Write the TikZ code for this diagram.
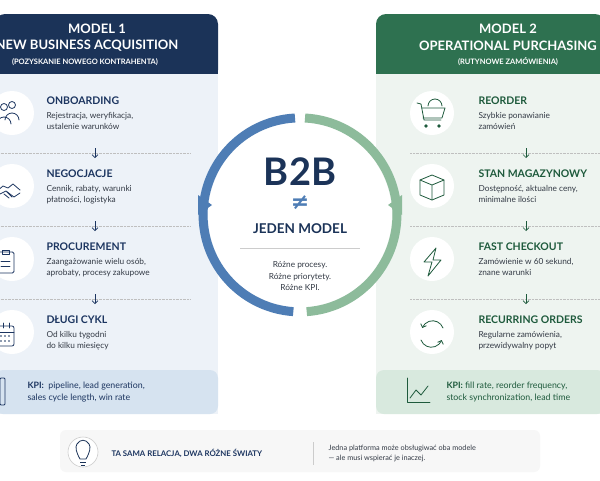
\documentclass[tikz,border=0pt]{standalone}
\usepackage{fontspec}
\setmainfont{Lato}
\newfontfamily\djv{DejaVu Sans}
\usetikzlibrary{arrows.meta}
\definecolor{navy}{HTML}{1B3358}
\definecolor{navytxt}{HTML}{1C3560}
\definecolor{gr}{HTML}{2E7150}
\definecolor{grtxt}{HTML}{1E5A3C}
\definecolor{lbl}{HTML}{EDF2F8}
\definecolor{lgr}{HTML}{EEF4F0}
\definecolor{kpib}{HTML}{D6E3F0}
\definecolor{kpig}{HTML}{D8E9DE}
\definecolor{arcb}{HTML}{4E7DB5}
\definecolor{arcg}{HTML}{8DBB9B}
\definecolor{txt}{HTML}{333A45}
\tikzset{
 ttl/.style={anchor=west,font=\bfseries\fontsize{10.5}{12}\selectfont},
 dsc/.style={anchor=north west,align=left,font=\fontsize{8.3}{11}\selectfont,text=txt},
 icon/.style={circle,fill=white,minimum size=44pt,inner sep=0},
 dn/.style={-{Straight Barb[length=3pt]},line width=0.7pt},
 sep/.style={densely dotted,gray!50,line width=0.4pt},
 hd/.style={white,font=\bfseries\fontsize{13}{14}\selectfont},
 hs/.style={white,font=\bfseries\fontsize{7.5}{9}\selectfont}
}
\begin{document}
\begin{tikzpicture}[x=1pt,y=-1pt]
\useasboundingbox (0,0) rectangle (600,480);
\fill[white] (0,0) rectangle (600,480);
% left panel
\fill[lbl] (-5,74) rectangle (218,414);
\fill[navy,rounded corners=10pt] (-5,14) rectangle (218,80);
\fill[navy] (-5,60) rectangle (218,74);
\fill[lbl] (-5,74) rectangle (218,90);
\fill[kpib,rounded corners=8pt] (-5,370) rectangle (218,414);
\node[hd] (m1) at (97,29) {MODEL 1};
\node[hd] (m1b) at (87,46) {NEW BUSINESS ACQUISITION};
\node[hs] (m1c) at (85,62) {(POZYSKANIE NOWEGO KONTRAHENTA)};
% right panel
\fill[lgr] (376,74) rectangle (605,414);
\fill[gr,rounded corners=10pt] (376,14) rectangle (605,80);
\fill[gr] (376,60) rectangle (605,74);
\fill[lgr] (376,74) rectangle (605,90);
\fill[kpig,rounded corners=8pt] (376,370) rectangle (605,414);
\node[hd] (m2) at (508,29) {MODEL 2};
\node[hd] (m2b) at (508,46) {OPERATIONAL PURCHASING};
\node[hs] (m2c) at (508,62) {(RUTYNOWE ZAMÓWIENIA)};
% left items
\foreach \y/\t/\d [count=\i] in {101/ONBOARDING/{Rejestracja, weryfikacja,\\ustalenie warunków},174/NEGOCJACJE/{Cennik, rabaty, warunki\\płatności, logistyka},247/PROCUREMENT/{Zaangażowanie wielu osób,\\aprobaty, procesy zakupowe},320/DŁUGI CYKL/{Od kilku tygodni\\do kilku miesięcy}}{
 \node[icon] (li\i) at (12,\y+12) {};
 \node[ttl,text=navytxt] (lt\i) at (43,\y) {\t};
 \node[dsc] (ld\i) at (43,\y+8) {\d};
}
\foreach \y in {153,226,299}{
 \draw[sep] (-5,\y) -- (190,\y);
 \draw[dn,navytxt] (95,\y-5) -- (95,\y+5);
}
% left icons
\begin{scope}[navytxt,line width=0.8pt,line join=round,line cap=round]
 \draw (4,107) circle (3.5); \draw (12,105) circle (3.5);
 \draw (-3,124) arc(180:360:7); \draw (5,120) arc(180:360:7);
 \draw (-4,192) -- (3,186) -- (8,188) -- (13,184) -- (20,190);
 \draw (-4,196) -- (6,191) -- (14,197) -- (20,193);
 \draw (4,194) -- (9,198) (7,192) -- (12,197);
 \draw[rounded corners=1.5pt] (-3,252) rectangle (14,273); \draw (2,250) rectangle (9,254);
 \draw (1,261) -- (10,261) (1,266) -- (10,266);
 \draw[rounded corners=2pt] (-3,326) rectangle (14,346); \draw (-3,332) -- (14,332);
 \draw (3,323) -- (3,328) (9,323) -- (9,328);
 \foreach \xx in {1,5,9} \foreach \yy in {336,341} \fill (\xx,\yy) circle (0.8);
 \draw[rounded corners=1pt] (0,378) rectangle (5,405);
\end{scope}
\node[anchor=west,align=left,font=\fontsize{8.8}{12}\selectfont,text=navytxt] (lk) at (24,392) {\textbf{KPI:}\ \ pipeline, lead generation,\\sales cycle length, win rate};
% right items
\foreach \y/\t/\d [count=\i] in {101/REORDER/{Szybkie ponawianie\\zamówień},174/STAN MAGAZYNOWY/{Dostępność, aktualne ceny,\\minimalne ilości},247/FAST CHECKOUT/{Zamówienie w 60 sekund,\\znane warunki},320/RECURRING ORDERS/{Regularne zamówienia,\\przewidywalny popyt}}{
 \node[icon] (ri\i) at (432,\y+12) {};
 \node[ttl,text=grtxt] (rt\i) at (475,\y) {\t};
 \node[dsc] (rd\i) at (475,\y+8) {\d};
}
\foreach \y in {153,226,299}{
 \draw[sep] (410,\y) -- (605,\y);
 \draw[dn,grtxt] (526,\y-5) -- (526,\y+5);
}
\begin{scope}[grtxt,line width=0.8pt,line join=round,line cap=round]
 \draw (417,103) -- (421,104) -- (424,120) -- (441,120);
 \draw (422,108) -- (445,108) -- (442,118) -- (423,118);
 \draw (428,106) arc(180:360:7);
 \fill (426,126) circle (1.8) (439,126) circle (1.8);
 \draw (420,180) -- (432,175) -- (444,180) -- (444,195) -- (432,200) -- (420,195) -- cycle;
 \draw (420,180) -- (432,185) -- (444,180) (432,185) -- (432,200);
 \draw (436,248) -- (424,262) -- (432,262) -- (428,276) -- (441,260) -- (433,260) -- cycle;
 \draw[-{Straight Barb[length=3pt]}] (443,328) arc(-20:-160:11);
 \draw[-{Straight Barb[length=3pt]}] (421,340) arc(160:20:11);
 \draw (407,378) -- (407,402) -- (430,402);
 \draw (410,398) -- (416,390) -- (421,395) -- (428,386);
\end{scope}
\node[anchor=west,align=left,font=\fontsize{8.8}{12}\selectfont,text=grtxt] (rk) at (443,392) {\textbf{KPI:} fill rate, reorder frequency,\\stock synchronization, lead time};
% centre
\fill[white] (300,215) circle (92);
\draw[arcb,line width=9pt] (295,118) arc(267:94:97);
\draw[arcg,line width=9pt] (305,118) arc(-87:86:97);
\fill[arcb] (198,195) -- (212,205) -- (198,215) -- cycle;
\fill[arcg] (402,195) -- (388,205) -- (402,215) -- cycle;
\node[font=\bfseries\fontsize{38}{40}\selectfont,text=navy] (b2b) at (300,172) {B2B};
\node[font=\djv\bfseries\fontsize{22}{22}\selectfont,text=arcb] (neq) at (300,203) {≠};
\node[font=\bfseries\fontsize{13.5}{15}\selectfont,text=navy] (jm) at (300,229) {JEDEN MODEL};
\draw[gray!40,line width=0.6pt] (240,248) -- (360,248);
\node[align=center,font=\fontsize{8.3}{11.5}\selectfont,text=txt] (rz) at (300,276) {Różne procesy.\\Różne priorytety.\\Różne KPI.};
% bottom
\fill[gray!6,rounded corners=6pt] (60,430) rectangle (540,472);
\node[circle,draw=gray!40,fill=white,minimum size=30pt,line width=0.6pt] (bulb) at (83,452) {};
\draw[navy,line width=0.8pt] (80,459) .. controls (76,452) and (75,447) .. (77,444) .. controls (80,439) and (86,439) .. (89,444) .. controls (91,447) and (90,452) .. (86,459) -- cycle;
\draw[navy,line width=0.8pt] (80,462) -- (86,462) (81,465) -- (85,465);
\node[anchor=west,font=\bfseries\fontsize{7.8}{9}\selectfont,text=navytxt] (ts) at (108,453) {TA SAMA RELACJA, DWA RÓŻNE ŚWIATY};
\draw[gray!40] (313,442) -- (313,465);
\node[anchor=west,align=left,font=\fontsize{7.3}{10}\selectfont,text=txt] (jp) at (325,453) {Jedna platforma może obsługiwać oba modele\\— ale musi wspierać je inaczej.};
\end{tikzpicture}
\end{document}
